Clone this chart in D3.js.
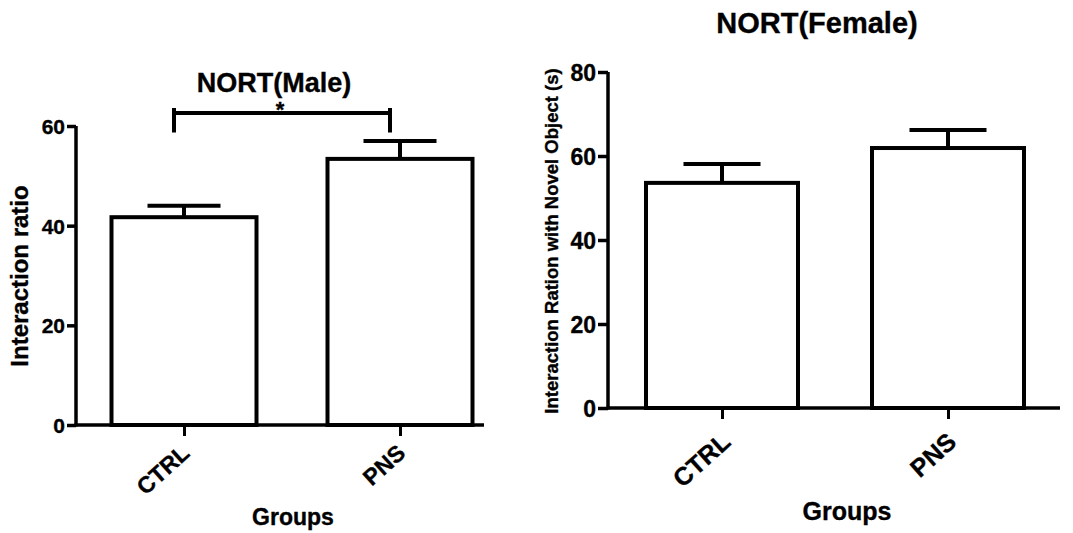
<!DOCTYPE html>
<html>
<head>
<meta charset="utf-8">
<script src="https://cdn.jsdelivr.net/npm/d3@7"></script>
<style>
  html, body { margin: 0; padding: 0; background: #fff; }
  svg { display: block; font-family: "Liberation Sans", Arial, sans-serif; font-weight: bold; }
  svg text { stroke: #000; stroke-width: 0.35px; }
</style>
</head>
<body>
<div id="chart"></div>
<script>
// Two Prism-style bar charts (mean + SEM, upper bar only), male and female NORT.

const groups = ['CTRL', 'PNS'];

const maleMean = [41.7, 53.4];
const maleSem = [2.3, 3.6];
const maleTicks = [0, 20, 40, 60];

const femaleMean = [53.6, 61.9];
const femaleSem = [4.5, 4.3];
const femaleTicks = [0, 20, 40, 60, 80];

// significance bracket on the male panel: CTRL vs PNS
const maleSig = { from: 'CTRL', to: 'PNS', value: 62.6, drop: 3.9, label: '*' };

const W = 1073, H = 533;
const svg = d3.select('#chart').append('svg').attr('width', W).attr('height', H);
svg.append('rect').attr('width', W).attr('height', H).attr('fill', '#fff');

function drawPanel(p) {
    const g = svg.append('g');
    const y = d3.scaleLinear().domain([0, d3.max(p.ticks)]).range([p.y0, p.yTop]);
    const x = d3.scalePoint().domain(groups).range(p.centers);
    const rows = groups.map((k, i) => ({ k, mean: p.mean[i], sem: p.sem[i] }));

    // y axis
    const yAxis = g.append('g')
        .attr('transform', `translate(${p.axisX},0)`)
        .attr('font-size', null)
        .attr('font-family', null)
        .call(d3.axisLeft(y).tickValues(p.ticks).tickSize(p.tickLen).tickSizeOuter(0).tickPadding(2));
    yAxis.attr('font-size', p.tickFont).attr('font-family', '"Liberation Sans", Arial, sans-serif');
    yAxis.selectAll('path, line').attr('stroke', '#000').attr('stroke-width', 3.5);
    yAxis.select('.domain').attr('d', `M0,${p.y0 + 1.5}V${p.yTop}`);
    yAxis.selectAll('text').attr('fill', '#000')
        .style('font-size', p.tickFont + 'px').style('font-weight', 'bold')
        .attr('dy', '0.36em');

    // x axis: baseline, ticks down, rotated labels
    const xAxis = g.append('g')
        .attr('transform', `translate(0,${p.y0})`)
        .call(d3.axisBottom(x).tickSize(11).tickSizeOuter(0).tickFormat(''));
    xAxis.select('.domain').remove();
    xAxis.selectAll('line').attr('stroke', '#000').attr('stroke-width', 3);
    xAxis.append('line')
        .attr('x1', p.axisX - 1.5).attr('x2', p.xEnd)
        .attr('stroke', '#000').attr('stroke-width', 3.5);

    g.selectAll('.xlab').data(groups).join('text')
        .attr('class', 'xlab')
        .attr('transform', (d) => `translate(${x(d) + p.labDx},${p.y0 + p.labDy}) rotate(-42)`)
        .attr('text-anchor', 'end')
        .style('font-size', p.labFont + 'px')
        .text((d) => d);

    // bars
    const bw = p.barW;
    g.selectAll('.bar').data(rows).join('rect')
        .attr('class', 'bar')
        .attr('x', (d) => x(d.k) - bw / 2)
        .attr('width', bw)
        .attr('y', (d) => y(d.mean))
        .attr('height', (d) => y(0) - y(d.mean))
        .attr('fill', '#fff')
        .attr('stroke', '#000')
        .attr('stroke-width', 4);

    // error bars, upper half only
    g.selectAll('.err').data(rows).join('path')
        .attr('class', 'err')
        .attr('d', (d) => `M${x(d.k)},${y(d.mean)}V${y(d.mean + d.sem)}`
            + `M${x(d.k) - p.capW / 2},${y(d.mean + d.sem)}H${x(d.k) + p.capW / 2}`)
        .attr('fill', 'none')
        .attr('stroke', '#000')
        .attr('stroke-width', 4);

    // titles
    g.append('text')
        .attr('x', p.titleX).attr('y', p.titleY)
        .attr('text-anchor', 'middle')
        .style('font-size', p.titleFont + 'px')
        .text(p.title);
    g.append('text')
        .attr('transform', `translate(${p.yLabX},${p.yLabY}) rotate(-90)`)
        .attr('text-anchor', 'middle')
        .style('font-size', p.yLabFont + 'px')
        .text(p.yLabel);
    g.append('text')
        .attr('x', p.xLabX).attr('y', p.xLabY)
        .attr('text-anchor', 'middle')
        .style('font-size', p.xLabFont + 'px')
        .text('Groups');

    return { g, x, y };
}

const male = drawPanel({
    mean: maleMean, sem: maleSem, ticks: maleTicks,
    axisX: 76, xEnd: 484, y0: 425, yTop: 126, centers: [184, 400],
    tickLen: 9, tickFont: 21, barW: 145, capW: 73,
    labDx: 7, labDy: 30, labFont: 23,
    title: 'NORT(Male)', titleX: 274, titleY: 92, titleFont: 27,
    yLabel: 'Interaction ratio', yLabX: 28, yLabY: 276, yLabFont: 24,
    xLabX: 293, xLabY: 525, xLabFont: 23,
});

// bracket sits slightly left of the bar centres, as in the original
const by = male.y(maleSig.value), bdrop = male.y(maleSig.value - maleSig.drop);
const bx1 = male.x(maleSig.from) - 10, bx2 = male.x(maleSig.to) - 10;
male.g.append('path')
    .attr('d', `M${bx1},${by - 5}V${bdrop}M${bx2},${by - 5}V${bdrop}M${bx1},${by}H${bx2}`)
    .attr('fill', 'none').attr('stroke', '#000').attr('stroke-width', 4);
male.g.append('text')
    .attr('x', (bx1 + bx2) / 2 - 2).attr('y', by + 4)
    .attr('text-anchor', 'middle')
    .style('font-size', '22px')
    .text(maleSig.label);

drawPanel({
    mean: femaleMean, sem: femaleSem, ticks: femaleTicks,
    axisX: 608, xEnd: 1060, y0: 408, yTop: 72, centers: [722, 948],
    tickLen: 10, tickFont: 23, barW: 152, capW: 77,
    labDx: 10, labDy: 36, labFont: 25,
    title: 'NORT(Female)', titleX: 817, titleY: 33, titleFont: 29,
    yLabel: 'Interaction Ration with Novel Object (s)', yLabX: 558, yLabY: 241, yLabFont: 18.5,
    xLabX: 847, xLabY: 520, xLabFont: 25,
});
</script>
</body>
</html>
